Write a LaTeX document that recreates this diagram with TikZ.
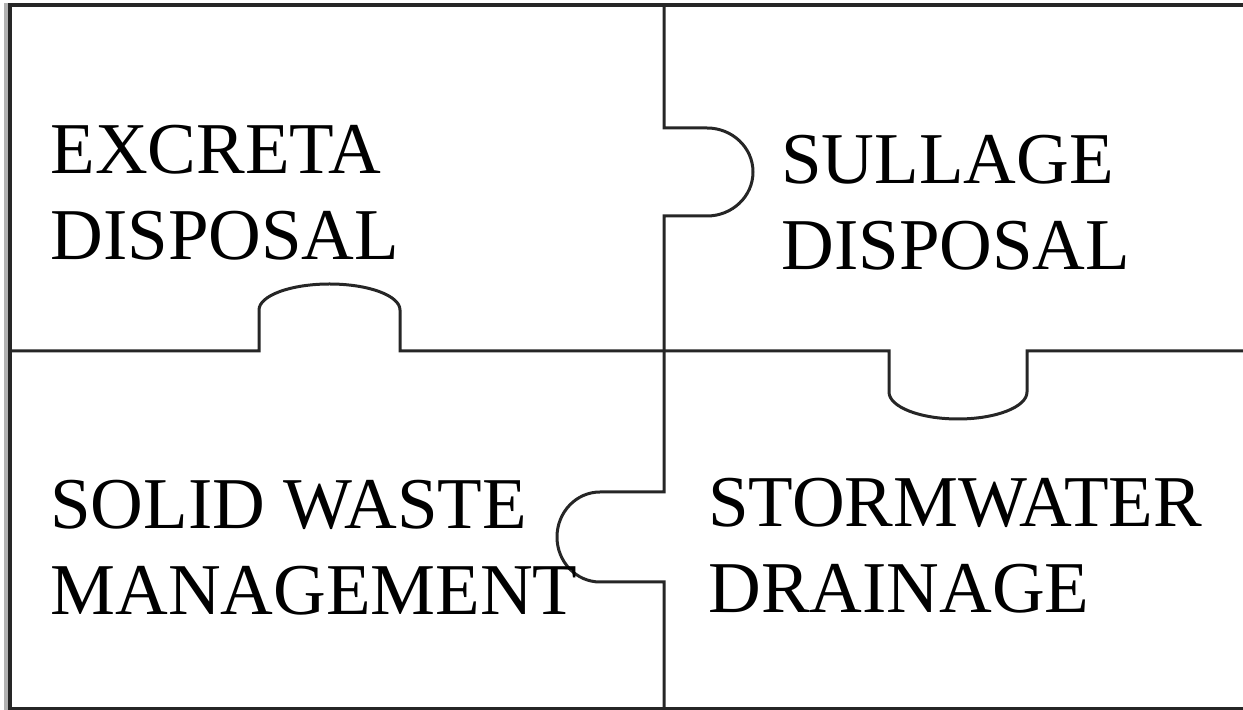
\documentclass[tikz,border=0pt]{standalone}
\usepackage{fontspec}
\setmainfont{Liberation Serif}
\usepackage{tikz}
\tikzset{
  pz_txt/.style = {anchor=north west, inner sep=0pt, align=left,
    font=\fontsize{36.5}{43}\selectfont},% texte d'une piece
  pz_cut/.style = {draw=black!85, line width=1.5pt, line join=miter},% decoupe entre pieces
  pz_frame/.style = {draw=black!85, line width=1.6pt}% cadre
}

\begin{document}
\begin{tikzpicture}[x=0.5pt,y=-0.5pt]
    \useasboundingbox (0,0) rectangle (1243,710);
    % cadre
    \draw[black!30, line width=2pt] (6,3) -- (6,710);
    \draw[pz_frame] (1243,5) -- (10,5) -- (10,709) -- (1243,709);
    % decoupe verticale
    \draw[pz_cut] (664,5) -- (664,128) -- (707,128)
        arc[start angle=90, end angle=-90, x radius=23pt, y radius=22pt]
        -- (664,216) -- (664,492) -- (600,492)
        arc[start angle=90, end angle=270, x radius=21.5pt, y radius=22.5pt]
        -- (664,582) -- (664,710);
    % decoupe horizontale
    \draw[pz_cut] (10,351) -- (259,351) -- (259,310)
        arc[start angle=180, end angle=0, x radius=35.25pt, y radius=13pt]
        -- (400,351) -- (889,351) -- (889,392)
        arc[start angle=180, end angle=360, x radius=34.5pt, y radius=13.5pt]
        -- (1027,351) -- (1243,351);
    % textes
    \node[pz_txt] (excreta) at (50,125) {EXCRETA\\DISPOSAL};
    \node[pz_txt] (sullage) at (781,135) {SULLAGE\\DISPOSAL};
    \node[pz_txt] (solid) at (50,480) {SOLID WASTE\\MANAGEMENT};
    \node[pz_txt] (storm) at (708,478) {STORMWATER\\DRAINAGE};
\end{tikzpicture}
\end{document}
